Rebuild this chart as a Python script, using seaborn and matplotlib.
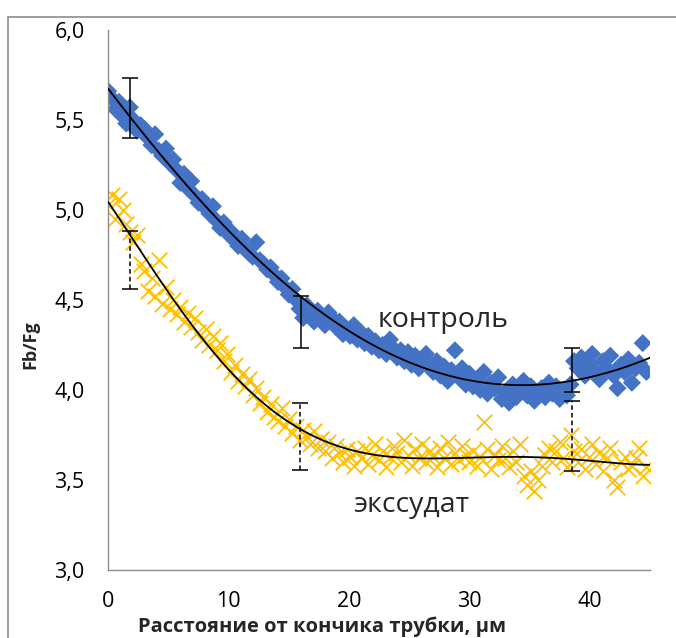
import numpy as np
import pandas as pd
import seaborn as sns
import matplotlib
matplotlib.use("Agg")
import matplotlib.pyplot as plt
from matplotlib.ticker import FuncFormatter
from matplotlib.patches import Rectangle

# %% Data
# distance from the tube tip, um (same positions for both series)
dist_um = [
    0.0, 0.3, 0.6, 0.9, 1.2, 1.5, 1.8, 2.1, 2.4, 2.7,
    3.0, 3.3, 3.6, 3.9, 4.2, 4.5, 4.8, 5.1, 5.4, 5.7,
    6.0, 6.3, 6.6, 6.9, 7.2, 7.5, 7.8, 8.1, 8.4, 8.7,
    9.0, 9.3, 9.6, 9.9, 10.2, 10.5, 10.8, 11.1, 11.4, 11.7,
    12.0, 12.3, 12.6, 12.9, 13.2, 13.5, 13.8, 14.1, 14.4, 14.7,
    15.0, 15.3, 15.6, 15.9, 16.2, 16.5, 16.8, 17.1, 17.4, 17.7,
    18.0, 18.3, 18.6, 18.9, 19.2, 19.5, 19.8, 20.1, 20.4, 20.7,
    21.0, 21.3, 21.6, 21.9, 22.2, 22.5, 22.8, 23.1, 23.4, 23.7,
    24.0, 24.3, 24.6, 24.9, 25.2, 25.5, 25.8, 26.1, 26.4, 26.7,
    27.0, 27.3, 27.6, 27.9, 28.2, 28.5, 28.8, 29.1, 29.4, 29.7,
    30.0, 30.3, 30.6, 30.9, 31.2, 31.5, 31.8, 32.1, 32.4, 32.7,
    33.0, 33.3, 33.6, 33.9, 34.2, 34.5, 34.8, 35.1, 35.4, 35.7,
    36.0, 36.3, 36.6, 36.9, 37.2, 37.5, 37.8, 38.1, 38.4, 38.7,
    39.0, 39.3, 39.6, 39.9, 40.2, 40.5, 40.8, 41.1, 41.4, 41.7,
    42.0, 42.3, 42.6, 42.9, 43.2, 43.5, 43.8, 44.1, 44.4, 44.7,
]

# Fb/Fg, control
control = [
    5.66, 5.62, 5.56, 5.60, 5.52, 5.48, 5.57, 5.50, 5.44, 5.47,
    5.45, 5.40, 5.36, 5.42, 5.33, 5.30, 5.34, 5.26, 5.28, 5.22,
    5.15, 5.20, 5.12, 5.16, 5.08, 5.04, 5.06, 5.01, 4.98, 5.02,
    4.94, 4.90, 4.93, 4.87, 4.88, 4.83, 4.80, 4.84, 4.78, 4.76,
    4.74, 4.82, 4.72, 4.70, 4.67, 4.68, 4.64, 4.60, 4.62, 4.57,
    4.53, 4.56, 4.50, 4.45, 4.40, 4.47, 4.42, 4.38, 4.44, 4.40,
    4.36, 4.43, 4.40, 4.35, 4.38, 4.31, 4.34, 4.30, 4.36, 4.28,
    4.32, 4.26, 4.30, 4.24, 4.27, 4.22, 4.25, 4.20, 4.28, 4.23,
    4.18, 4.22, 4.16, 4.21, 4.14, 4.19, 4.12, 4.17, 4.20, 4.13,
    4.10, 4.16, 4.08, 4.13, 4.05, 4.11, 4.22, 4.07, 4.12, 4.03,
    4.09, 4.02, 4.06, 4.00, 4.10, 3.98, 4.04, 4.01, 4.07, 3.95,
    3.99, 3.93, 4.03, 3.96, 4.00, 4.05, 3.97, 4.02, 3.94, 3.99,
    4.01, 3.96, 4.04, 3.98, 4.02, 3.95, 4.00, 3.97, 4.03, 4.16,
    4.12, 4.18, 4.08, 4.15, 4.20, 4.10, 4.06, 4.16, 4.12, 4.19,
    4.08, 4.01, 4.14, 4.10, 4.17, 4.04, 4.12, 4.15, 4.26, 4.10,
]

# Fb/Fg, exudate
exudate = [
    5.03, 5.08, 4.95, 5.06, 5.00, 4.92, 4.88, 4.82, 4.86, 4.70,
    4.66, 4.55, 4.62, 4.52, 4.72, 4.48, 4.57, 4.45, 4.50, 4.42,
    4.46, 4.38, 4.43, 4.35, 4.40, 4.32, 4.28, 4.34, 4.25, 4.30,
    4.22, 4.26, 4.16, 4.20, 4.10, 4.14, 4.05, 4.09, 4.02, 4.06,
    3.97, 4.01, 3.93, 3.96, 3.88, 3.92, 3.85, 3.83, 3.90, 3.80,
    3.84, 3.76, 3.80, 3.72, 3.78, 3.74, 3.70, 3.77, 3.68, 3.73,
    3.66, 3.71, 3.62, 3.69, 3.65, 3.60, 3.67, 3.63, 3.58, 3.66,
    3.62, 3.68, 3.59, 3.64, 3.70, 3.61, 3.66, 3.57, 3.63, 3.69,
    3.65, 3.60, 3.72, 3.64, 3.58, 3.67, 3.62, 3.70, 3.60, 3.66,
    3.63, 3.57, 3.68, 3.62, 3.71, 3.59, 3.65, 3.61, 3.69, 3.64,
    3.60, 3.66, 3.58, 3.63, 3.82, 3.67, 3.56, 3.64, 3.61, 3.69,
    3.62, 3.57, 3.66, 3.60, 3.70, 3.52, 3.47, 3.55, 3.44, 3.50,
    3.58, 3.64, 3.68, 3.60, 3.66, 3.71, 3.62, 3.57, 3.75, 3.66,
    3.60, 3.67, 3.56, 3.63, 3.70, 3.59, 3.65, 3.55, 3.62, 3.68,
    3.50, 3.46, 3.60, 3.63, 3.56, 3.58, 3.62, 3.68, 3.52, 3.57,
]

# error bars (mean +/- sd) at three positions
err_x_ctrl = [1.8, 16.0, 38.5]
err_y_ctrl = [5.567, 4.378, 4.112]
err_sd_ctrl = [0.167, 0.144, 0.122]

err_x_exu = [1.8, 15.9, 38.5]
err_y_exu = [4.722, 3.742, 3.745]
err_sd_exu = [0.161, 0.186, 0.195]

y_ticks = [3.0, 3.5, 4.0, 4.5, 5.0, 5.5, 6.0]
x_ticks = [0, 10, 20, 30, 40]

df = pd.DataFrame({'dist': dist_um, 'control': control, 'exudate': exudate})

# %% polynomial trend lines (Excel-style)
xs = np.linspace(min(dist_um), 45, 300)
fit_ctrl = np.polyval(np.polyfit(df['dist'], df['control'], 4), xs)
fit_exu = np.polynomial.Polynomial.fit(df['dist'], df['exudate'], 5)(xs)

# %% Plot
sns.set_style("white")
plt.rcParams['font.family'] = ['Open Sans', 'DejaVu Sans']

fig = plt.figure(figsize=(6.76, 6.38), dpi=100, facecolor='white')
ax = fig.add_axes([0.16, 0.1066, 0.8015, 0.8466])

blue = '#4472C4'
yellow = '#FFC000'

sns.scatterplot(data=df, x='dist', y='control', marker='D', s=85,
                color=blue, edgecolor='none', linewidth=0, ax=ax, zorder=2)
sns.scatterplot(data=df, x='dist', y='exudate', marker='x', s=125,
                color=yellow, linewidth=1.3, ax=ax, zorder=2)

sns.lineplot(x=xs, y=fit_ctrl, color='black', linewidth=1.3, ax=ax, zorder=3)
sns.lineplot(x=xs, y=fit_exu, color='black', linewidth=1.3, ax=ax, zorder=3)

ax.errorbar(err_x_ctrl, err_y_ctrl, yerr=err_sd_ctrl, fmt='none',
            ecolor='black', elinewidth=1.1, capsize=6, capthick=1.1, zorder=4)
eb2 = ax.errorbar(err_x_exu, err_y_exu, yerr=err_sd_exu, fmt='none',
                  ecolor='black', elinewidth=1.1, capsize=6, capthick=1.1, zorder=4)
eb2[2][0].set_linestyle((0, (3, 2)))

ax.set_xlim(0, 45)
ax.set_ylim(3.0, 6.0)
ax.set_xticks(x_ticks)
ax.set_yticks(y_ticks)
ax.yaxis.set_major_formatter(FuncFormatter(lambda v, p: f"{v:.1f}".replace('.', ',')))
ax.set_xlabel('')
ax.set_ylabel('')

for side in ['top', 'right']:
    ax.spines[side].set_visible(False)
for side in ['left', 'bottom']:
    ax.spines[side].set_color('#8c8c8c')
    ax.spines[side].set_linewidth(1.0)
ax.tick_params(axis='both', direction='out', length=7, width=1.0, color='#8c8c8c',
               labelsize=15.5, labelcolor='black')
ax.tick_params(axis='y', pad=10)
ax.tick_params(axis='x', pad=8)

ax.text(22.4, 4.39, 'контроль', fontsize=20.5, ha='left', va='center')
ax.text(20.3, 3.36, 'экссудат', fontsize=20.5, ha='left', va='center')

fig.text(0.476, 0.017, 'Расстояние от кончика трубки, μм', fontsize=14.5,
         fontweight='bold', ha='center', va='center')
fig.text(0.045, 0.46, 'Fb/Fg', fontsize=13, fontweight='bold', rotation=90,
         ha='center', va='center')

# outer chart-area border
fig.patches.append(Rectangle((8 / 676, -0.05), 1.0, 1.05 - 17 / 638,
                             transform=fig.transFigure, fill=False,
                             edgecolor='#8c8c8c', linewidth=1.2))

fig.savefig('out.png', dpi=100, facecolor='white')
